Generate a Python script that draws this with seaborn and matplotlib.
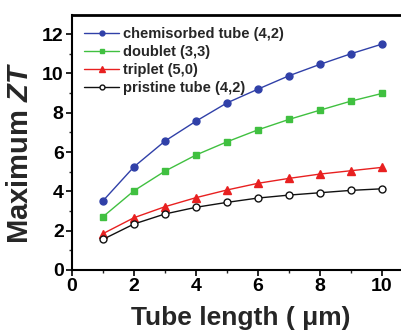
import matplotlib
matplotlib.use("Agg")
import matplotlib.pyplot as plt
import seaborn as sns
import pandas as pd
from matplotlib.ticker import MultipleLocator

sns.set_theme(style="ticks")
plt.rcParams['font.family'] = ['Liberation Sans', 'DejaVu Sans']
plt.rcParams['font.weight'] = 'bold'
plt.rcParams['mathtext.fontset'] = 'custom'
plt.rcParams['mathtext.it'] = 'Liberation Sans:italic:bold'
plt.rcParams['mathtext.rm'] = 'Liberation Sans:bold'

lengths = [1, 2, 3, 4, 5, 6, 7, 8, 9, 10]
chemisorbed = [3.52, 5.25, 6.56, 7.57, 8.50, 9.20, 9.88, 10.46, 11.00, 11.49]
doublet = [2.71, 4.03, 5.03, 5.85, 6.52, 7.13, 7.66, 8.13, 8.59, 8.98]
triplet = [1.85, 2.66, 3.22, 3.68, 4.07, 4.41, 4.66, 4.88, 5.05, 5.22]
pristine = [1.56, 2.34, 2.85, 3.19, 3.44, 3.66, 3.81, 3.93, 4.05, 4.13]
labels = ["chemisorbed tube (4,2)", "doublet (3,3)", "triplet (5,0)", "pristine tube (4,2)"]

fig = plt.figure(figsize=(4.02, 3.35), dpi=100)
ax = fig.add_axes([72/402, 1-270/335, (410-72)/402, (270-15)/335])

specs = [
    (chemisorbed, "#3040a8", "o", "#3040a8", 5),
    (doublet, "#40c040", "s", "#40c040", 4.8),
    (triplet, "#e82020", "^", "#e82020", 5.5),
    (pristine, "#111111", "o", "white", 5),
]
for (vals, col, mk, fc, ms), lab in zip(specs, labels):
    df = pd.DataFrame({"x": lengths, "y": vals})
    sns.lineplot(data=df, x="x", y="y", ax=ax, color=col, marker=mk,
                 markersize=ms, markerfacecolor=fc, markeredgecolor=col,
                 markeredgewidth=1.0, linewidth=1.0, label=lab)

ax.set_xlim(0, (410-72)/31)
ax.set_ylim(0, 12.97)
ax.xaxis.set_major_locator(MultipleLocator(2))
ax.xaxis.set_minor_locator(MultipleLocator(1))
ax.yaxis.set_major_locator(MultipleLocator(2))
ax.yaxis.set_minor_locator(MultipleLocator(1))
ax.tick_params(which='major', direction='out', length=4, width=1.2, labelsize=14, colors='black', pad=2)
ax.tick_params(which='minor', direction='out', length=2.5, width=1.0)
for lbl in ax.get_xticklabels() + ax.get_yticklabels():
    lbl.set_fontweight('bold')
for s in ax.spines.values():
    s.set_color('black')
    s.set_linewidth(1.5)
ax.spines['top'].set_linewidth(2)

ax.set_xlabel("Tube length ( μm)", fontsize=19, fontweight='bold', labelpad=8)
ax.set_ylabel(r"Maximum $ZT$", fontsize=21, fontweight='bold')
ax.yaxis.set_label_coords(-0.113, 0.46)

leg = ax.legend(loc='upper left', frameon=False, fontsize=10.5, handlelength=2.4,
                handletextpad=0.25, labelspacing=0.27, borderaxespad=0.45,
                markerscale=0.7, bbox_to_anchor=(0.0, 1.0))
for t in leg.get_texts():
    t.set_fontweight('bold')

fig.savefig("out.png", dpi=100)
